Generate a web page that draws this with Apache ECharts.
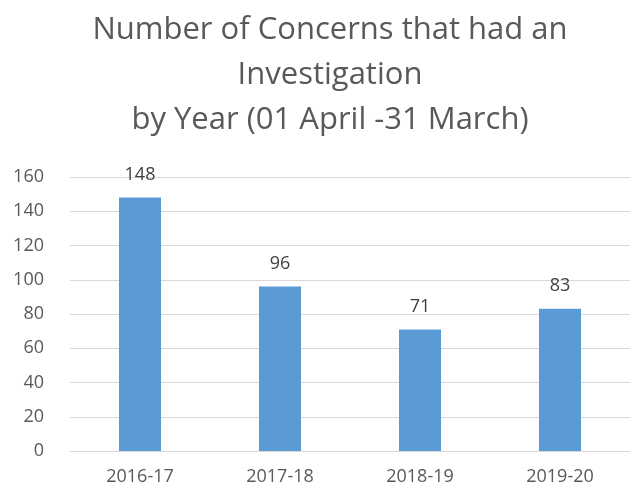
<!DOCTYPE html>
<html>
<head>
<meta charset="utf-8">
<script src="https://cdn.jsdelivr.net/npm/echarts@6/dist/echarts.min.js"></script>
<style>
  html, body { margin: 0; padding: 0; background: #fff; }
  #chart { width: 630px; height: 493px; }
</style>
</head>
<body>
<div id="chart"></div>
<script>
// data
const years = ['2016-17', '2017-18', '2018-19', '2019-20'];
const concerns = [148, 96, 71, 83];
const yTicks = { min: 0, max: 160, interval: 20 };

const chart = echarts.init(document.getElementById('chart'));
const option = {
  animation: false,
  title: {
    text: 'Number of Concerns that had an\nInvestigation\nby Year (01 April -31 March)',
    left: 325,
    textAlign: 'center',
    top: 3,
    textStyle: {
      fontFamily: 'Open Sans',
      fontSize: 31,
      fontWeight: 'normal',
      color: '#595959',
      lineHeight: 45
    }
  },
  grid: { left: 70, right: 0, top: 177, bottom: 42 },
  xAxis: {
    type: 'category',
    data: years,
    axisLine: { lineStyle: { color: '#d9d9d9' } },
    axisTick: { show: false },
    axisLabel: { color: '#595959', fontFamily: 'Open Sans', fontSize: 18, margin: 17 }
  },
  yAxis: {
    type: 'value',
    min: yTicks.min,
    max: yTicks.max,
    interval: yTicks.interval,
    axisLine: { show: false },
    axisTick: { show: false },
    splitLine: { lineStyle: { color: '#d9d9d9' } },
    axisLabel: { color: '#595959', fontFamily: 'Open Sans', fontSize: 18, margin: 26 }
  },
  series: [{
    type: 'bar',
    data: concerns,
    barWidth: '30%',
    itemStyle: { color: '#5b9bd5' },
    label: {
      show: true,
      position: 'top',
      distance: 14,
      color: '#404040',
      fontFamily: 'Open Sans',
      fontSize: 18
    }
  }]
};
chart.setOption(option);
</script>
</body>
</html>
